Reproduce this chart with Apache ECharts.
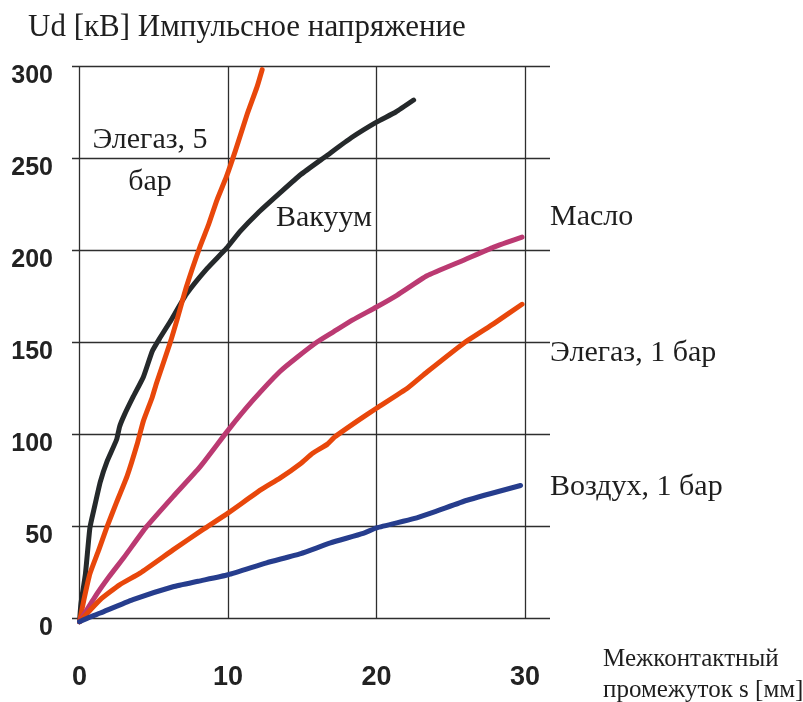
<!DOCTYPE html>
<html>
<head>
<meta charset="utf-8">
<style>
  html, body { margin: 0; padding: 0; background: #ffffff; }
  #chart { width: 803px; height: 702px; }
</style>
<script src="https://cdn.jsdelivr.net/npm/echarts@6/dist/echarts.min.js"></script>
</head>
<body>
<div id="chart"></div>
<script>
// ---- data ----
var xTicks = [0, 10, 20, 30];
var yTicks = [0, 50, 100, 150, 200, 250, 300];

var vacuum = [[0,-2],[0.1,8],[0.4,24],[0.7,49],[1.0,60],[1.4,74],[1.85,85],[2.5,97],[2.7,104],[3.0,110],[3.6,120],[4.3,131],[4.9,145],[5.4,152],[6.1,161],[7.2,176],[8.6,190],[9.9,201],[10.8,210],[12,220],[13.5,231],[14.9,241],[16.6,251],[18.3,261],[20,269.5],[21.3,275],[22.5,281.5]];
var sf6_5bar = [[0,-2],[0.3,10],[0.7,24],[1.3,37],[1.85,49.5],[2.5,63],[3.2,77],[3.9,95],[4.3,107],[4.9,120],[5.2,128],[6.1,149.5],[6.6,163],[7.2,180],[8.1,201.5],[8.7,214],[9.25,227],[9.9,240],[10.5,254],[11.3,274],[11.95,288.5],[12.3,298]];
var oil = [[0,-2],[1,11],[2,22.5],[3,33],[4.5,49.5],[6.3,66],[8.1,82],[10,102],[11.7,118.5],[13.5,134],[14.7,142],[16,150],[17.1,155.5],[18.4,162],[20,169],[21.4,175.5],[23.4,186],[25.9,194.6],[27.9,201.6],[29.8,207]];
var sf6_1bar = [[0,-2],[1.4,10],[2.7,18],[4.1,24.5],[6.3,37],[8.3,48],[10,57],[12.2,69.6],[13.5,76],[14.9,84],[15.7,89.5],[16.7,94.5],[17.2,98.5],[18.7,107],[20,114],[22.1,125],[23.4,133.7],[25.9,149.5],[27.9,160],[29.8,170.5]];
var air_1bar = [[0,-2],[0.7,0.5],[1.4,2.7],[3.6,10],[6.3,17],[8,20],[10,23.5],[12.6,30],[14.9,35],[16.9,40.8],[19.1,46],[20,49],[22.5,54],[24,58],[26.1,64],[29.7,72]];

var seriesNames = ['Вакуум', 'Элегаз, 5 бар', 'Масло', 'Элегаз, 1 бар', 'Воздух, 1 бар'];
var titleText = 'Ud [кВ] Импульсное напряжение';
var xName = 'Межконтактный\nпромежуток s [мм]';

// ---- chart ----
var chart = echarts.init(document.getElementById('chart'), null, { renderer: 'canvas' });
var gridColor = '#2e2e2e';
var serif = '"Liberation Serif", "Times New Roman", serif';
var sans = '"Liberation Sans", Arial, sans-serif';

function label(text, x, y, align, lh, size) {
  return {
    type: 'text', silent: true,
    style: {
      text: text, x: x, y: y,
      font: (size || 30) + 'px ' + serif, fill: '#1e1e1e',
      textAlign: align, align: align,
      textVerticalAlign: 'middle', verticalAlign: 'middle',
      lineHeight: lh || 36
    }
  };
}

var lineSeries = function (name, data, color) {
  return {
    name: name, type: 'line', data: data,
    xAxisIndex: 1, yAxisIndex: 1,
    showSymbol: false, smooth: 0.15, clip: false,
    lineStyle: { color: color, width: 5, cap: 'round', join: 'round' },
    z: 5
  };
};

chart.setOption({
  animation: false,
  backgroundColor: '#ffffff',
  grid: [
    { left: 72, right: 253, top: 66, bottom: 84 },
    { left: 79.5, right: 278, top: 66, bottom: 84 }
  ],
  xAxis: [
    { gridIndex: 0, type: 'value', min: 0, max: 1, show: false },
    {
      gridIndex: 1, type: 'value', min: xTicks[0], max: xTicks[xTicks.length - 1], interval: 10,
      axisLine: { show: false }, axisTick: { show: false },
      splitLine: { show: true, lineStyle: { color: gridColor, width: 1.3 } },
      axisLabel: { margin: 46, color: '#222', fontWeight: 'bold', fontSize: 27, fontFamily: sans }
    }
  ],
  yAxis: [
    {
      gridIndex: 0, type: 'value', min: yTicks[0], max: yTicks[yTicks.length - 1], interval: 50,
      axisLine: { show: false }, axisTick: { show: false },
      splitLine: { show: true, lineStyle: { color: gridColor, width: 1.3 } },
      axisLabel: { margin: 19, fontWeight: 'bold', fontSize: 25, fontFamily: sans, color: '#222',
                   verticalAlign: 'top', lineHeight: 20 }
    },
    { gridIndex: 1, type: 'value', min: 0, max: 300, show: false }
  ],
  series: [
    lineSeries(seriesNames[0], vacuum, '#25292b'),
    lineSeries(seriesNames[1], sf6_5bar, '#e8470b'),
    lineSeries(seriesNames[2], oil, '#bb3a72'),
    lineSeries(seriesNames[3], sf6_1bar, '#e8470b'),
    lineSeries(seriesNames[4], air_1bar, '#263d8d')
  ],
  graphic: [
    label(titleText, 28, 28, 'left', 36, 31),
    label('Элегаз, 5\nбар', 150, 161, 'center', 42),
    label(seriesNames[0], 276, 218, 'left'),
    label(seriesNames[2], 550, 217, 'left'),
    label(seriesNames[3], 550, 353, 'left'),
    label(seriesNames[4], 550, 487, 'left'),
    label(xName, 603, 674.5, 'left', 31, 25)
  ]
});
</script>
</body>
</html>
